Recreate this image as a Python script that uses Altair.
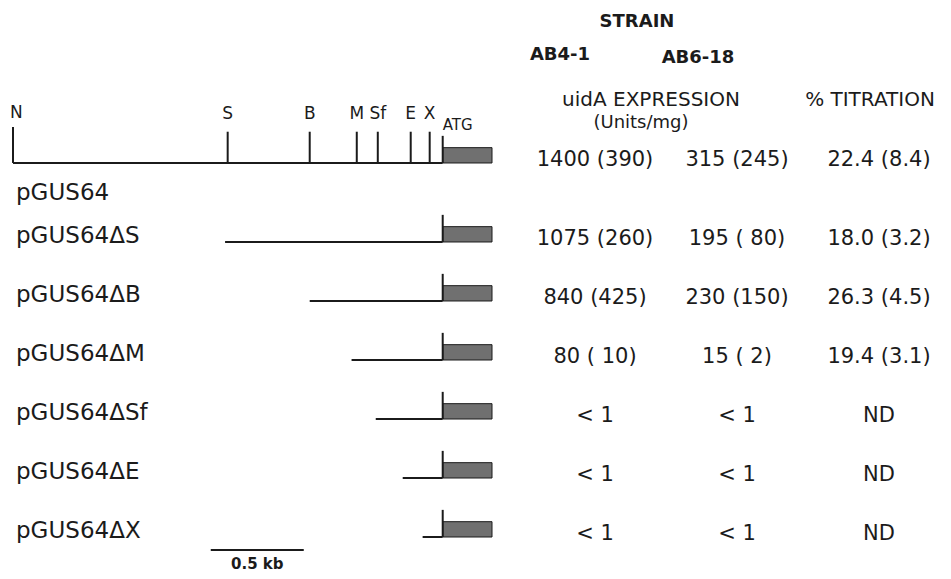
import altair as alt
import pandas as pd

# ---------------- data ----------------
constructs = ["pGUS64", "pGUS64ΔS", "pGUS64ΔB", "pGUS64ΔM", "pGUS64ΔSf", "pGUS64ΔE", "pGUS64ΔX"]
# 5' end of each construct, kb relative to the ATG (negative = upstream)
start_kb = [-2.31, -1.17, -0.715, -0.49, -0.36, -0.215, -0.108]
# restriction sites on the full-length promoter fragment
site_names = ["N", "S", "B", "M", "Sf", "E", "X"]
site_kb = [-2.31, -1.156, -0.715, -0.462, -0.349, -0.172, -0.070]
uida_end_kb = 0.265          # visible start of the uidA coding region
scale_bar_kb = 0.5

table_cols = ["AB4-1", "AB6-18", "% TITRATION"]
ab4_1 = ["1400 (390)", "1075 (260)", "840 (425)", "80 ( 10)", "< 1", "< 1", "< 1"]
ab6_18 = ["315 (245)", "195 ( 80)", "230 (150)", "15 (  2)", "< 1", "< 1", "< 1"]
titration = ["22.4 (8.4)", "18.0 (3.2)", "26.3 (4.5)", "19.4 (3.1)", "ND", "ND", "ND"]

# ---------------- style / layout ----------------
INK = "#1b1b1b"
FONT = "DejaVu Sans"
BOX_H = 0.26      # in row units
ATG_H = 0.46
SITE_H = 0.53
N_H = 0.61
WL, WR = 492, 443
HT, HB = 197, 366

X_KB = alt.Scale(domain=[-2.337, 0.308], nice=False, zero=False)
X_COL = alt.Scale(type="point", domain=table_cols, range=[95, 379], padding=0)
Y_TOP = alt.Scale(domain=[-2.627, 0.712], reverse=True, nice=False, zero=False)
Y_BOT = alt.Scale(domain=[0.373, 6.576], reverse=True, nice=False, zero=False)

cons = pd.DataFrame({
    "construct": constructs,
    "start": start_kb,
    "row": list(range(len(constructs))),
})
cons["atg"] = 0.0
cons["uida_end"] = uida_end_kb
cons["box_top"] = cons["row"] - BOX_H
cons["atg_top"] = cons["row"] - ATG_H

sites = pd.DataFrame({"site": site_names, "kb": site_kb})
sites["row"] = 0
sites["top"] = [(-N_H if s == "N" else -SITE_H) for s in site_names]

rows = []
for i, name in enumerate(constructs):
    for col, vals in zip(table_cols, [ab4_1, ab6_18, titration]):
        rows.append({"construct": name, "row": i, "col": col, "text": vals[i]})
table = pd.DataFrame(rows)


def xk(field):
    return alt.X(field, type="quantitative", scale=X_KB, axis=None)


def yr(field, ys):
    return alt.Y(field, type="quantitative", scale=ys, axis=None)


def map_panel(df, ys, label_dy):
    base = alt.Chart(df)
    backbone = base.mark_rule(strokeWidth=2, color=INK).encode(
        x=xk("start"), x2="atg", y=yr("row", ys))
    box = base.mark_rect(fill="#707070", stroke=INK, strokeWidth=1).encode(
        x=xk("atg"), x2="uida_end", y=yr("row", ys), y2="box_top")
    tick = base.mark_rule(strokeWidth=2, color=INK).encode(
        x=xk("atg"), y=yr("row", ys), y2="atg_top")
    labels = base.mark_text(align="left", baseline="middle", dx=3, dy=label_dy,
                            font=FONT, fontSize=23, color=INK).encode(
        x=alt.X(datum=site_kb[0], type="quantitative", scale=X_KB, axis=None),
        y=yr("row", ys), text="construct:N")
    return [backbone, box, tick, labels]


def table_panel(df, ys):
    return alt.Chart(df).mark_text(baseline="middle", dy=-3, font=FONT, fontSize=21,
                                   color=INK).encode(
        x=alt.X("col:N", scale=X_COL, axis=None),
        y=yr("row", ys),
        text="text:N")


# ---- top left: full-length map ----
top_cons = cons[cons["row"] == 0]
tl_layers = map_panel(top_cons, Y_TOP, 30)
site_ticks = alt.Chart(sites).transform_calculate(tt="datum.row + datum.top").mark_rule(
    strokeWidth=2, color=INK).encode(x=xk("kb"), y=yr("row", Y_TOP), y2="tt:Q")
site_lab_n = alt.Chart(sites).transform_filter("datum.site == 'N'").mark_text(
    align="left", baseline="alphabetic", dx=-3, dy=-45, font=FONT, fontSize=17, color=INK).encode(
    x=xk("kb"), y=yr("row", Y_TOP), text="site:N")
site_lab = alt.Chart(sites).transform_filter("datum.site != 'N'").mark_text(
    align="center", baseline="alphabetic", dy=-44, font=FONT, fontSize=17, color=INK).encode(
    x=xk("kb"), y=yr("row", Y_TOP), text="site:N")
atg_lab = alt.Chart(pd.DataFrame({"t": ["ATG"], "kb": [0.0], "row": [0]})).mark_text(
    align="left", baseline="alphabetic", dy=-33, font=FONT, fontSize=15, color=INK).encode(
    x=xk("kb"), y=yr("row", Y_TOP), text="t:N")
TL = alt.layer(*tl_layers, site_ticks, site_lab_n, site_lab, atg_lab).properties(width=WL, height=HT)

# ---- top right: headers + first row ----
def header(text, col, dx, dy, size, bold=False):
    return alt.Chart(pd.DataFrame({"t": [text]})).mark_text(
        baseline="middle", dx=dx, dy=dy, font=FONT, fontSize=size,
        fontWeight="bold" if bold else "normal", color=INK).encode(
        x=alt.X(datum=col, type="nominal", scale=X_COL, axis=None),
        y=alt.Y(datum=0, type="quantitative", scale=Y_TOP, axis=None),
        text="t:N")

TR = alt.layer(
    table_panel(table[table["row"] == 0], Y_TOP),
    header("STRAIN", table_cols[0], 42, -141, 18, True),
    header(table_cols[0], table_cols[0], -35, -108, 18, True),
    header(table_cols[1], table_cols[1], -39, -105, 18, True),
    header("uidA EXPRESSION", table_cols[0], 56, -63, 20),
    header("(Units/mg)", table_cols[0], 46, -40, 18),
    header(table_cols[2], table_cols[2], -9, -63, 20),
).properties(width=WR, height=HT)

# ---- bottom left: deletion constructs + scale bar ----
bot_cons = cons[cons["row"] > 0]
SB_X0 = -1.247
SB_ROW = 6.22
sb = pd.DataFrame({"x": [SB_X0], "x2": [SB_X0 + scale_bar_kb], "mid": [SB_X0 + scale_bar_kb / 2],
                   "row": [SB_ROW], "t": [f"{scale_bar_kb} kb"]})
sb_rule = alt.Chart(sb).mark_rule(strokeWidth=2, color=INK).encode(
    x=xk("x"), x2="x2", y=yr("row", Y_BOT))
sb_text = alt.Chart(sb).mark_text(baseline="middle", dy=14, font=FONT, fontSize=15,
                                  fontWeight="bold", color=INK).encode(
    x=xk("mid"), y=yr("row", Y_BOT), text="t:N")
BL = alt.layer(*map_panel(bot_cons, Y_BOT, -6), sb_rule, sb_text).properties(width=WL, height=HB)

# ---- bottom right: values ----
BR = alt.layer(table_panel(table[table["row"] > 0], Y_BOT)).properties(width=WR, height=HB)

chart = alt.vconcat(
    alt.hconcat(TL, TR, spacing=0),
    alt.hconcat(BL, BR, spacing=0),
    spacing=0,
).properties(padding=0).configure(font=FONT).configure_view(stroke=None, strokeWidth=0)

chart.save("out.html", embed_options={"renderer": "svg", "actions": False})
